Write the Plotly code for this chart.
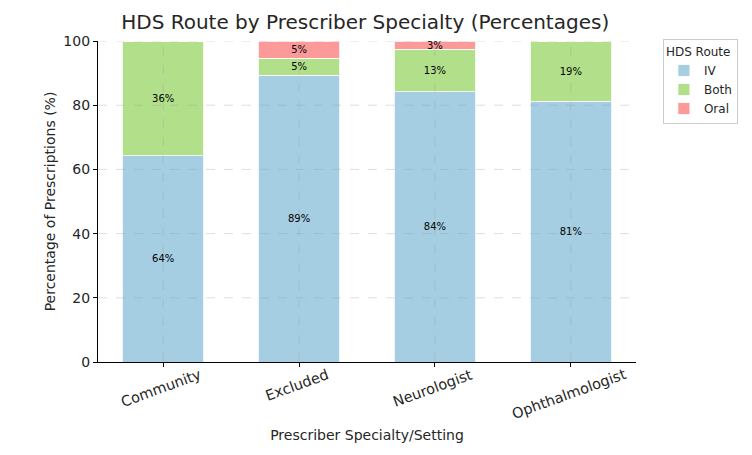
import plotly.graph_objects as go

# Datos
especialidades = ['Community', 'Excluded', 'Neurologist', 'Ophthalmologist']
iv = [64.3, 89.4, 84.2, 81.3]
both = [35.7, 5.3, 13.2, 18.7]
oral = [0.0, 5.3, 2.6, 0.0]

series = [('IV', iv, '#a6cee3'), ('Both', both, '#b2df8a'), ('Oral', oral, '#fb9a99')]

fig = go.Figure()
for nombre, valores, color in series:
    etiquetas = [f'{v:.0f}%' if v > 0 else '' for v in valores]
    fig.add_trace(go.Bar(
        x=especialidades, y=valores, name=nombre,
        marker=dict(color=color, line=dict(color='white', width=0.8)),
        text=etiquetas, textposition='inside', insidetextanchor='middle',
        textfont=dict(color='black', size=10), textangle=0,
        width=0.6,
    ))

# Rejilla punteada encima de las barras (como en matplotlib)
for cat in especialidades:
    fig.add_shape(type='line', xref='x', yref='paper', x0=cat, x1=cat, y0=0, y1=1,
                  line=dict(color='rgba(150,150,150,0.4)', width=0.8, dash='dash'),
                  layer='above')
for v in [20, 40, 60, 80, 100]:
    fig.add_shape(type='line', xref='paper', yref='y', x0=0, x1=1, y0=v, y1=v,
                  line=dict(color='rgba(150,150,150,0.4)', width=0.8, dash='dash'),
                  layer='above')

# Etiquetas del eje X rotadas y centradas bajo cada marca
for cat in especialidades:
    fig.add_annotation(x=cat, xref='x', y=-0.005, yref='paper', text=cat,
                       showarrow=False, textangle=-20, xanchor='center', yanchor='top',
                       xshift=-2, font=dict(size=14.5, color='#262626'))

fig.update_layout(
    barmode='stack',
    width=752, height=455,
    font=dict(family='DejaVu Sans', color='#262626'),
    plot_bgcolor='white', paper_bgcolor='white',
    margin=dict(l=90, r=124, t=33, b=101, autoexpand=False),
    title=dict(text='HDS Route by Prescriber Specialty (Percentages)',
               x=0.475, xanchor='center', y=0.985, yanchor='top',
               font=dict(size=20, color='#262626')),
    legend=dict(title=dict(text='HDS Route', font=dict(size=12)),
                font=dict(size=12), x=1.05, y=1.005, xanchor='left', yanchor='top',
                bordercolor='#cccccc', borderwidth=1, traceorder='normal',
                tracegroupgap=0),
    uniformtext=dict(minsize=8, mode='show'),
)

fig.update_xaxes(
    title=dict(text='Prescriber Specialty/Setting', font=dict(size=14), standoff=64),
    range=[-0.48, 3.48], showticklabels=False,
    showline=True, linecolor='black', linewidth=1.2,
    ticks='outside', ticklen=4, tickcolor='black',
    showgrid=False, automargin=False,
)
fig.update_yaxes(
    title=dict(text='Percentage of Prescriptions (%)', font=dict(size=14), standoff=4),
    range=[0, 100], dtick=20, tickfont=dict(size=14),
    showline=True, linecolor='black', linewidth=1.2,
    ticks='outside', ticklen=4, tickcolor='black',
    showgrid=False, zeroline=False, automargin=False,
)

fig.write_html('out.html')
